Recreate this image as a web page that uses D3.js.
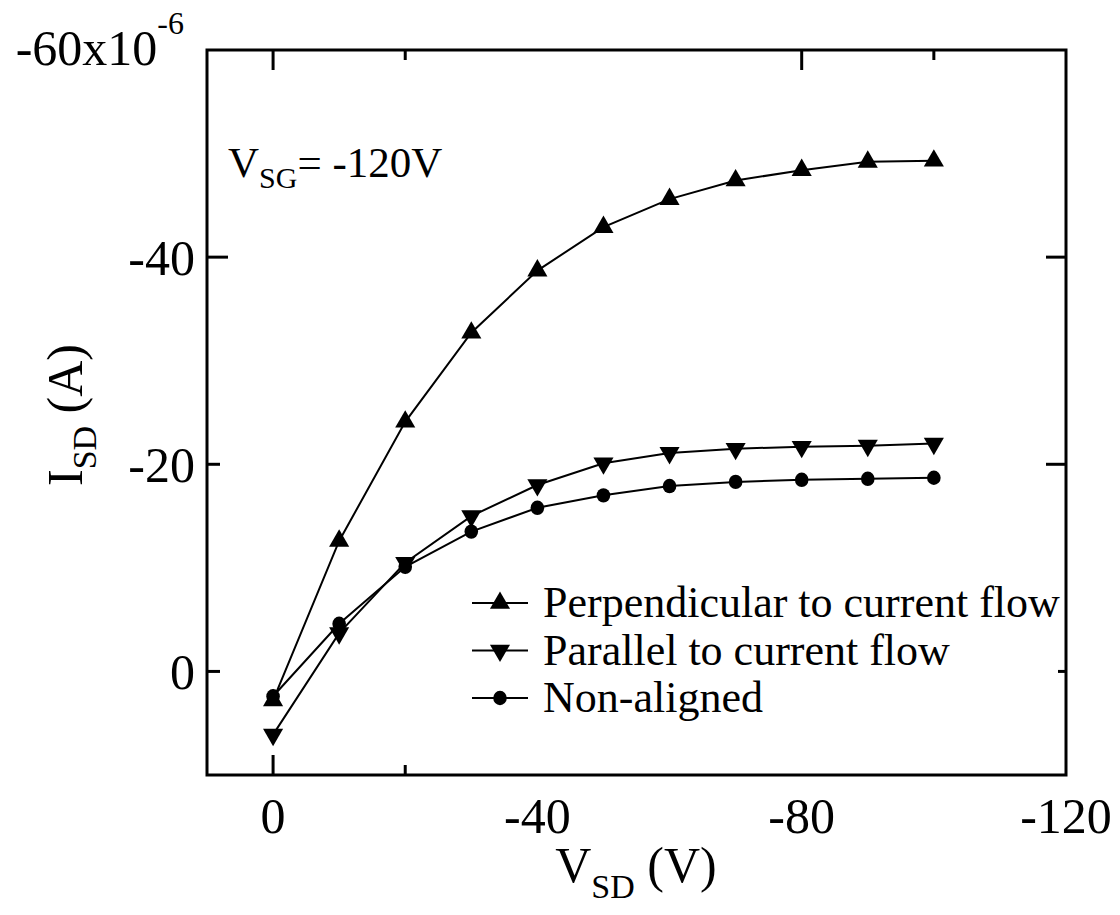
<!DOCTYPE html>
<html lang="en">
<head>
    <meta charset="utf-8">
    <style type="text/css">
        body { margin: 0; background: #fff; }
        text { font-family: "Liberation Serif", "Times New Roman", serif; fill: #000; }
    </style>
</head>
<body>
    <svg width="1120" height="915"></svg>
    <script src="https://d3js.org/d3.v7.min.js" type="text/javascript"></script>
    <script type="text/javascript">
        // data, I_SD in units of 1e-6 A
        var vsd = [0, -10, -20, -30, -40, -50, -60, -70, -80, -90, -100];
        var perpendicular = [2.8, -12.6, -24.1, -32.7, -38.7, -42.9, -45.6, -47.4, -48.4, -49.2, -49.3];
        var parallel = [6.1, -3.7, -10.5, -15.0, -18.0, -20.1, -21.1, -21.5, -21.7, -21.8, -22.0];
        var nonAligned = [2.4, -4.6, -10.1, -13.5, -15.8, -17.0, -17.9, -18.3, -18.5, -18.6, -18.7];

        var xTickLabels = [0, -40, -80, -120];
        var yTickLabels = [0, -20, -40];
        var seriesNames = ["Perpendicular to current flow", "Parallel to current flow", "Non-aligned"];

        var svg = d3.select("svg");

        var x = d3.scaleLinear().domain([10, -120]).range([207, 1066]);
        var y = d3.scaleLinear().domain([10, -60]).range([775, 50]);

        var series = [
            { name: seriesNames[0], values: perpendicular, shape: "up" },
            { name: seriesNames[1], values: parallel, shape: "down" },
            { name: seriesNames[2], values: nonAligned, shape: "circle" }
        ];

        var line = d3.line()
            .x(function (d) { return x(d[0]); })
            .y(function (d) { return y(d[1]); });

        var tri = d3.symbol().type(d3.symbolTriangle).size(175);

        function drawMarker(g, shape, cx, cy) {
            if (shape === "circle") {
                g.append("ellipse").attr("cx", cx).attr("cy", cy)
                    .attr("rx", 6.8).attr("ry", 7.2).attr("fill", "#000");
            } else {
                g.append("path").attr("d", tri())
                    .attr("fill", "#000")
                    .attr("transform", "translate(" + cx + "," + cy + ")" + (shape === "down" ? " rotate(180)" : ""));
            }
        }

        // lines + markers
        series.forEach(function (s) {
            var pts = vsd.map(function (v, i) { return [v, s.values[i]]; });
            svg.append("path")
                .datum(pts)
                .attr("d", line)
                .attr("fill", "none")
                .attr("stroke", "#000")
                .attr("stroke-width", 2);
            var g = svg.append("g");
            pts.forEach(function (p) {
                drawMarker(g, s.shape, x(p[0]), y(p[1]));
            });
        });

        // frame
        svg.append("rect")
            .attr("x", x(10)).attr("y", y(-60))
            .attr("width", x(-120) - x(10)).attr("height", y(10) - y(-60))
            .attr("fill", "none").attr("stroke", "#000").attr("stroke-width", 3);

        // ticks (only those that show in the figure)
        var ticks = svg.append("g").attr("stroke", "#000").attr("stroke-width", 3);
        function vtick(v, yEdge, len) {
            ticks.append("line").attr("x1", x(v)).attr("x2", x(v))
                .attr("y1", yEdge).attr("y2", yEdge + len);
        }
        function htick(v, xEdge, len) {
            ticks.append("line").attr("y1", y(v)).attr("y2", y(v))
                .attr("x1", xEdge).attr("x2", xEdge + len);
        }
        vtick(0, y(10), -20);
        vtick(-20, y(10), -10);
        vtick(0, y(-60), 20);
        vtick(-20, y(-60), 10);
        vtick(-80, y(-60), 20);
        vtick(-100, y(-60), 10);
        htick(0, x(10), 13);
        htick(-20, x(10), 13);
        htick(-40, x(10), 21);
        htick(-40, x(-120), -20);
        htick(-20, x(-120), -20);
        htick(0, x(-120), -8);

        // x tick labels
        svg.append("g").selectAll("text")
            .data(xTickLabels)
            .enter().append("text")
            .attr("x", function (d) { return x(d); })
            .attr("y", 833)
            .attr("text-anchor", "middle")
            .attr("font-size", 50)
            .text(function (d) { return d; });

        // y tick labels
        svg.append("g").selectAll("text")
            .data(yTickLabels)
            .enter().append("text")
            .attr("x", 195)
            .attr("y", function (d) { return y(d); })
            .attr("dy", "0.35em")
            .attr("text-anchor", "end")
            .attr("font-size", 50)
            .text(function (d) { return d; });

        var topLabel = svg.append("text")
            .attr("x", 184).attr("y", 65)
            .attr("text-anchor", "end")
            .attr("font-size", 50);
        topLabel.append("tspan").text("-60x10");
        topLabel.append("tspan").attr("font-size", 32).attr("dy", -31).text("-6");

        // axis titles
        var xt = svg.append("text")
            .attr("x", 636).attr("y", 882)
            .attr("text-anchor", "middle")
            .attr("font-size", 50);
        xt.append("tspan").text("V");
        xt.append("tspan").attr("font-size", 34).attr("dy", 16).text("SD");
        xt.append("tspan").attr("dy", -16).text(" (V)");

        var yt = svg.append("text")
            .attr("transform", "translate(82,415) rotate(-90)")
            .attr("text-anchor", "middle")
            .attr("font-size", 50);
        yt.append("tspan").text("I");
        yt.append("tspan").attr("font-size", 34).attr("dy", 14).text("SD");
        yt.append("tspan").attr("dy", -14).text(" (A)");

        // annotation
        var ann = svg.append("text")
            .attr("x", 228).attr("y", 177)
            .attr("font-size", 43);
        ann.append("tspan").text("V");
        ann.append("tspan").attr("font-size", 30).attr("dy", 11).text("SG");
        ann.append("tspan").attr("dy", -11).text("= -120V");

        // legend
        var legend = svg.append("g");
        series.forEach(function (s, i) {
            var ly = 603 + i * 47.5;
            legend.append("line")
                .attr("x1", 472).attr("x2", 528)
                .attr("y1", ly).attr("y2", ly)
                .attr("stroke", "#000").attr("stroke-width", 2);
            drawMarker(legend, s.shape, 500, ly);
            legend.append("text")
                .attr("x", 543).attr("y", ly + 14)
                .attr("font-size", 44)
                .text(s.name);
        });
    </script>
</body>
</html>
